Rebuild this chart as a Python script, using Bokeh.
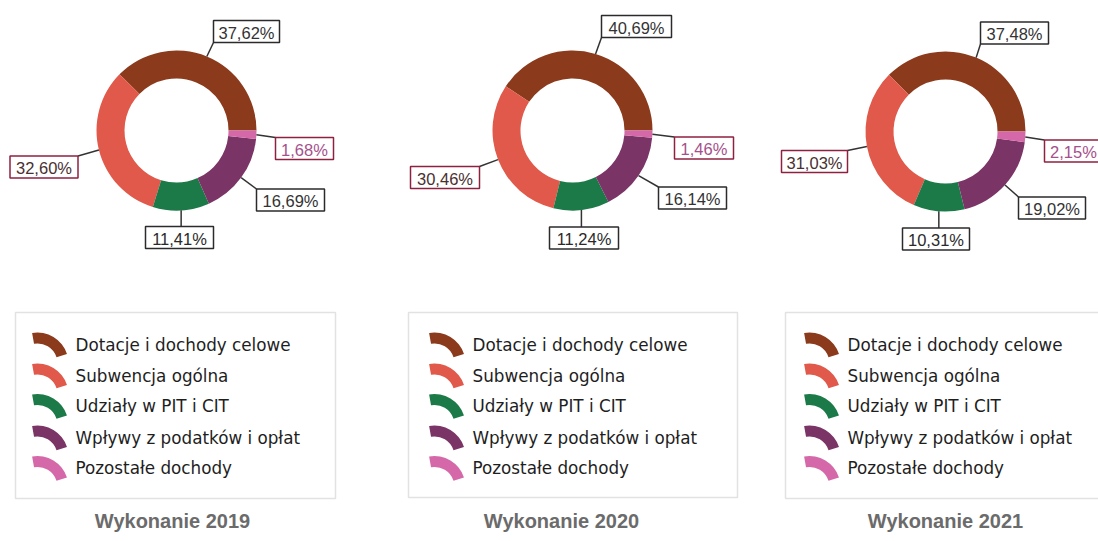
import math
from bokeh.plotting import figure
from bokeh.models import Range1d, ColumnDataSource
from bokeh.core.properties import value
from bokeh.embed import file_html
from bokeh.resources import INLINE

# ---------------- data ----------------
categories = ["Dotacje i dochody celowe", "Subwencja ogólna", "Udziały w PIT i CIT",
              "Wpływy z podatków i opłat", "Pozostałe dochody"]
colors = ["#8b3a1c", "#e0594a", "#1c7a48", "#7b3466", "#d568a8"]
titles = ["Wykonanie 2019", "Wykonanie 2020", "Wykonanie 2021"]
share_2019 = [37.62, 32.60, 11.41, 16.69, 1.68]
share_2020 = [40.69, 30.46, 11.24, 16.14, 1.46]
share_2021 = [37.48, 31.03, 10.31, 19.02, 2.15]
years = [share_2019, share_2020, share_2021]

# ---------------- layout (pixel space of the page) ----------------
W, H = 1098, 541
centers = [(176, 130), (572, 130), (945, 131)]
R_OUT, R_IN = 80, 52
label_boxes = [  # (cx, cy, w) per slice
    [(246, 31, 66), (43.5, 166.5, 68), (179, 237, 68), (290, 199.5, 68), (304, 148, 58)],
    [(636, 26, 70), (444.5, 177, 69), (583.5, 237.5, 69), (692, 197.5, 68), (703.5, 147.5, 59)],
    [(1014, 32.5, 68), (814, 161, 66), (935.5, 238.5, 67), (1051.5, 207.5, 67), (1073, 150.5, 58)],
]
BOX_H = 22
box_line = ["#2b2b2b", "#8e2040", "#2b2b2b", "#2b2b2b", "#8e2040"]
lab_text = ["#333333", "#4a3030", "#2a2a2a", "#333333", "#a5508c"]
legend_rect = [(15, 312, 335, 498), (408, 312, 737, 497), (785, 312, 1110, 498)]
legend_sw_x = [33, 430, 805]
legend_row_y = [343, 374, 404.5, 436, 466.5]
title_x = [172, 561, 945]
title_y = 520

p = figure(width=W, height=H, output_backend="svg", toolbar_location=None,
           x_range=Range1d(0, W), y_range=Range1d(H, 0), min_border=0)
p.axis.visible = False
p.grid.visible = False
p.outline_line_color = None
p.background_fill_color = "white"
p.border_fill_color = "white"

for k, vals in enumerate(years):
    cx, cy = centers[k]
    tot = sum(vals)
    starts, ends, mids = [], [], []
    acc = 0.0
    for v in vals:
        a0 = acc / tot * 2 * math.pi
        acc += v
        a1 = acc / tot * 2 * math.pi
        starts.append(a0)
        ends.append(a1)
        mids.append((a0 + a1) / 2)
    src = ColumnDataSource(dict(x=[cx] * 5, y=[cy] * 5, s=starts, e=ends, c=colors))
    p.annular_wedge(x="x", y="y", inner_radius=R_IN, outer_radius=R_OUT,
                    start_angle="s", end_angle="e", fill_color="c", line_color=None,
                    source=src)
    # leader lines and label boxes
    for i, v in enumerate(vals):
        bx, by, bw = label_boxes[k][i]
        sx = cx + R_OUT * math.cos(mids[i])
        sy = cy - R_OUT * math.sin(mids[i])
        ex = min(max(sx, bx - bw / 2), bx + bw / 2)
        ey = min(max(sy, by - BOX_H / 2), by + BOX_H / 2)
        p.line([sx, ex], [sy, ey], line_color="#333333", line_width=1.5)
        p.rect(x=bx, y=by, width=bw, height=BOX_H, fill_color="white",
               line_color=box_line[i], line_width=1.5)
        txt = f"{v:.2f}".replace(".", ",") + "%"
        p.text(x=[bx], y=[by + 1], text=[txt], text_align="center", text_baseline="middle",
               text_font=value("Liberation Sans"), text_font_size="16.5px",
               text_color=lab_text[i])
    # legend
    x0, y0, x1, y1 = legend_rect[k]
    p.quad(left=x0, right=x1, top=y0, bottom=y1, fill_color="white",
           line_color="#e2e2e2", line_width=1.5)
    sw = legend_sw_x[k]
    for i, name in enumerate(categories):
        ry = legend_row_y[i]
        p.annular_wedge(x=sw + 4, y=ry + 20, inner_radius=20, outer_radius=31,
                        start_angle=math.radians(18), end_angle=math.radians(100),
                        fill_color=colors[i], line_color=None)
        p.text(x=[sw + 42], y=[ry + 1], text=[name], text_baseline="middle",
               text_font=value("DejaVu Sans"), text_font_size="16.8px", text_color="#1e1e1e")
    p.text(x=[title_x[k]], y=[title_y], text=[titles[k]], text_align="center",
           text_baseline="middle", text_font=value("Liberation Sans"), text_font_size="20px",
           text_font_style="bold", text_color="#6b6b6b")

open("out.html", "w").write(file_html(p, INLINE))
